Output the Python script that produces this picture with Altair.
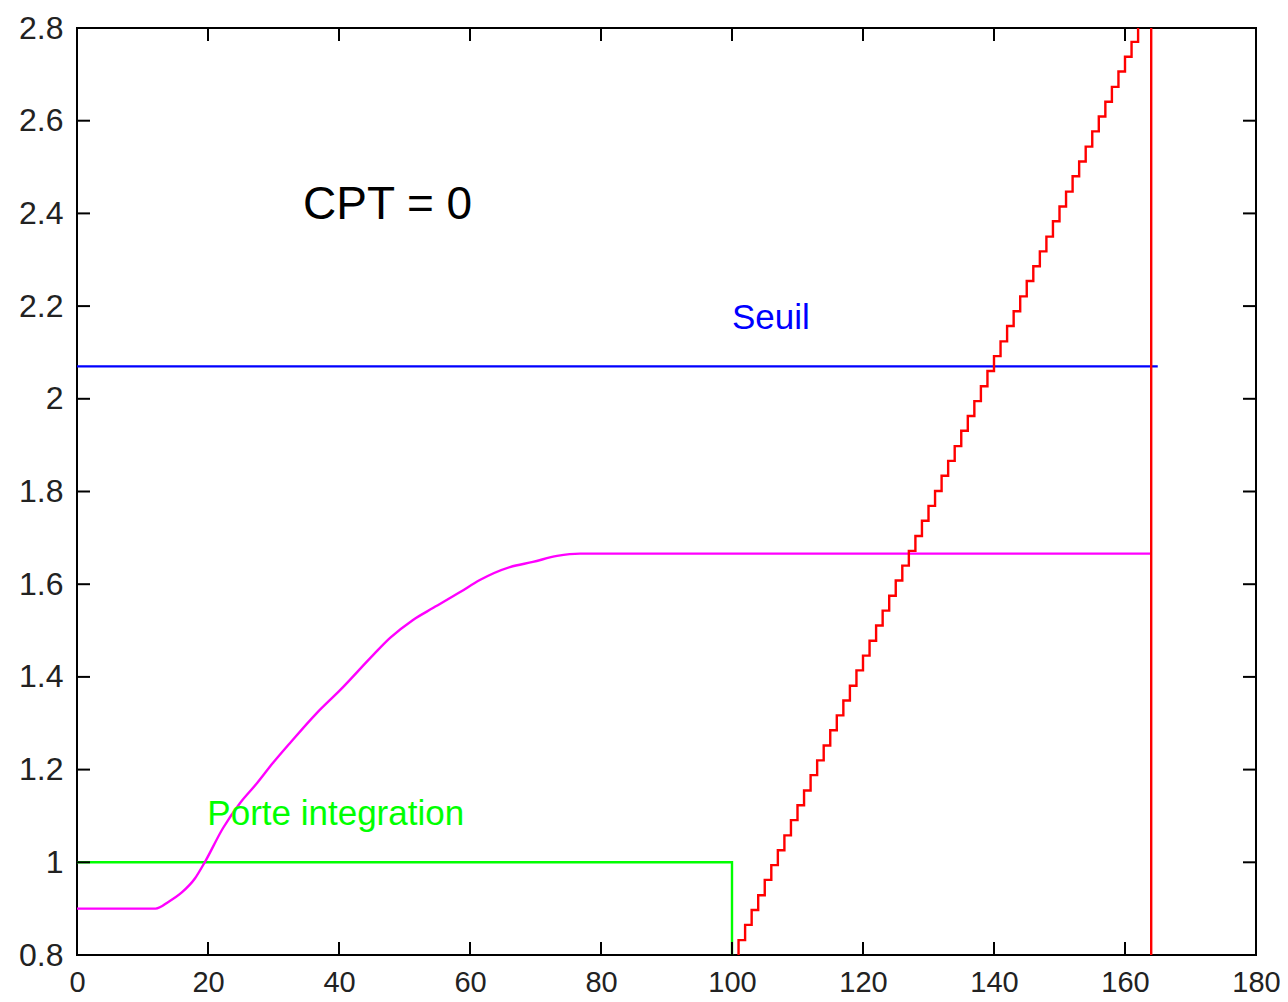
import altair as alt
import pandas as pd

# ---- data ----
x_ticks = [0, 20, 40, 60, 80, 100, 120, 140, 160, 180]
y_ticks = [0.8, 1.0, 1.2, 1.4, 1.6, 1.8, 2.0, 2.2, 2.4, 2.6, 2.8]

# "Porte integration" gate (green)
gate_x = [0, 100, 100]
gate_y = [1.0, 1.0, 0.0]

# threshold "Seuil" (blue)
seuil_x = [0, 165]
seuil_y = [2.07, 2.07]

# integrated signal (magenta)
mag_x = [0, 12, 14, 16, 18, 19.5, 22.3, 24.9, 27.5, 29.9, 32.5, 36.6, 40.2, 45.2,
         47.8, 51.3, 54.4, 58.5, 61.5, 66.1, 69.6, 73.3, 76.8, 80, 164]
mag_y = [0.9, 0.9, 0.915, 0.935, 0.965, 1.0, 1.074, 1.128, 1.171, 1.214, 1.257, 1.322, 1.372, 1.447,
         1.484, 1.523, 1.549, 1.583, 1.609, 1.637, 1.648, 1.661, 1.666, 1.666, 1.666]

# counter ramp (red, staircase), reset at 164
cpt_x = list(range(100, 165))
cpt_y = [0.0,
         0.832, 0.865, 0.897, 0.929, 0.962, 0.994, 1.026, 1.058, 1.091, 1.123,
         1.155, 1.188, 1.220, 1.252, 1.285, 1.317, 1.349, 1.381, 1.414, 1.446,
         1.478, 1.511, 1.543, 1.575, 1.608, 1.640, 1.672, 1.704, 1.737, 1.769,
         1.801, 1.834, 1.866, 1.898, 1.931, 1.963, 1.995, 2.027, 2.060, 2.092,
         2.124, 2.157, 2.189, 2.221, 2.254, 2.286, 2.318, 2.350, 2.383, 2.415,
         2.447, 2.480, 2.512, 2.544, 2.577, 2.609, 2.641, 2.673, 2.706, 2.738,
         2.770, 2.803, 2.835,
         0.0]

labels_text = ["CPT = 0", "Seuil", "Porte integration"]
labels_x = [34.5, 100, 19.9]
labels_y = [2.388, 2.151, 1.080]
labels_color = ["#000000", "#0000ff", "#00ff00"]
labels_size = [46, 35, 35]

W, H = 1179, 927
TICK = 13

xscale = alt.Scale(domain=[0, 180], nice=False, zero=False)
yscale = alt.Scale(domain=[0.8, 2.8], nice=False, zero=False)
xaxis = alt.Axis(values=x_ticks, title=None, ticks=False, domain=False, grid=False,
                 labelFont="Liberation Sans, Arial", labelFontSize=29,
                 labelColor="#222222", labelPadding=13, labelFlush=False, labelOverlap=False)
yaxis = alt.Axis(values=y_ticks, title=None, ticks=False, domain=False, grid=False,
                 labelFont="Liberation Sans, Arial", labelFontSize=32,
                 labelColor="#222222", labelPadding=14, labelFlush=False, labelOverlap=False,
                 labelExpr="format(datum.value, '.1~f')")

X = alt.X("x:Q", scale=xscale, axis=xaxis)
Y = alt.Y("y:Q", scale=yscale, axis=yaxis)


def line_layer(xs, ys, color, interp="linear"):
    df = pd.DataFrame({"x": xs, "y": ys, "o": list(range(len(xs)))})
    return alt.Chart(df).mark_line(color=color, strokeWidth=2.4, clip=True,
                                   interpolate=interp).encode(x=X, y=Y, order="o:Q")


gate = line_layer(gate_x, gate_y, "#00ff00")
seuil = line_layer(seuil_x, seuil_y, "#0000ff")
mag = line_layer(mag_x, mag_y, "#ff00ff", "monotone")
cpt = line_layer(cpt_x, cpt_y, "#ff0000", "step-after")

lab_df = pd.DataFrame({"x": labels_x, "y": labels_y, "t": labels_text,
                       "c": labels_color, "s": labels_size})
labels = alt.Chart(lab_df).mark_text(align="left", baseline="alphabetic",
                                     font="Liberation Sans, Arial").encode(
    x=X, y=Y, text="t:N",
    color=alt.Color("c:N", scale=None, legend=None),
    size=alt.Size("s:Q", scale=None, legend=None))

xt_df = pd.DataFrame({"x": x_ticks})
yt_df = pd.DataFrame({"y": y_ticks})
tick_bottom = alt.Chart(xt_df).mark_rule(color="black", strokeWidth=2).encode(
    x=X, y=alt.value(H), y2=alt.value(H - TICK))
tick_top = alt.Chart(xt_df).mark_rule(color="black", strokeWidth=2).encode(
    x=X, y=alt.value(0), y2=alt.value(TICK))
tick_left = alt.Chart(yt_df).mark_rule(color="black", strokeWidth=2).encode(
    y=Y, x=alt.value(0), x2=alt.value(TICK))
tick_right = alt.Chart(yt_df).mark_rule(color="black", strokeWidth=2).encode(
    y=Y, x=alt.value(W), x2=alt.value(W - TICK))

chart = alt.layer(
    gate, seuil, mag, cpt, labels, tick_bottom, tick_top, tick_left, tick_right
).properties(
    width=W, height=H,
    autosize=alt.AutoSizeParams(type="none"),
    padding={"left": 69, "top": 20, "right": 24, "bottom": 47},
    background="white",
).configure_view(stroke="black", strokeWidth=2)

chart.save("out.html", embed_options={"renderer": "svg", "actions": False})
